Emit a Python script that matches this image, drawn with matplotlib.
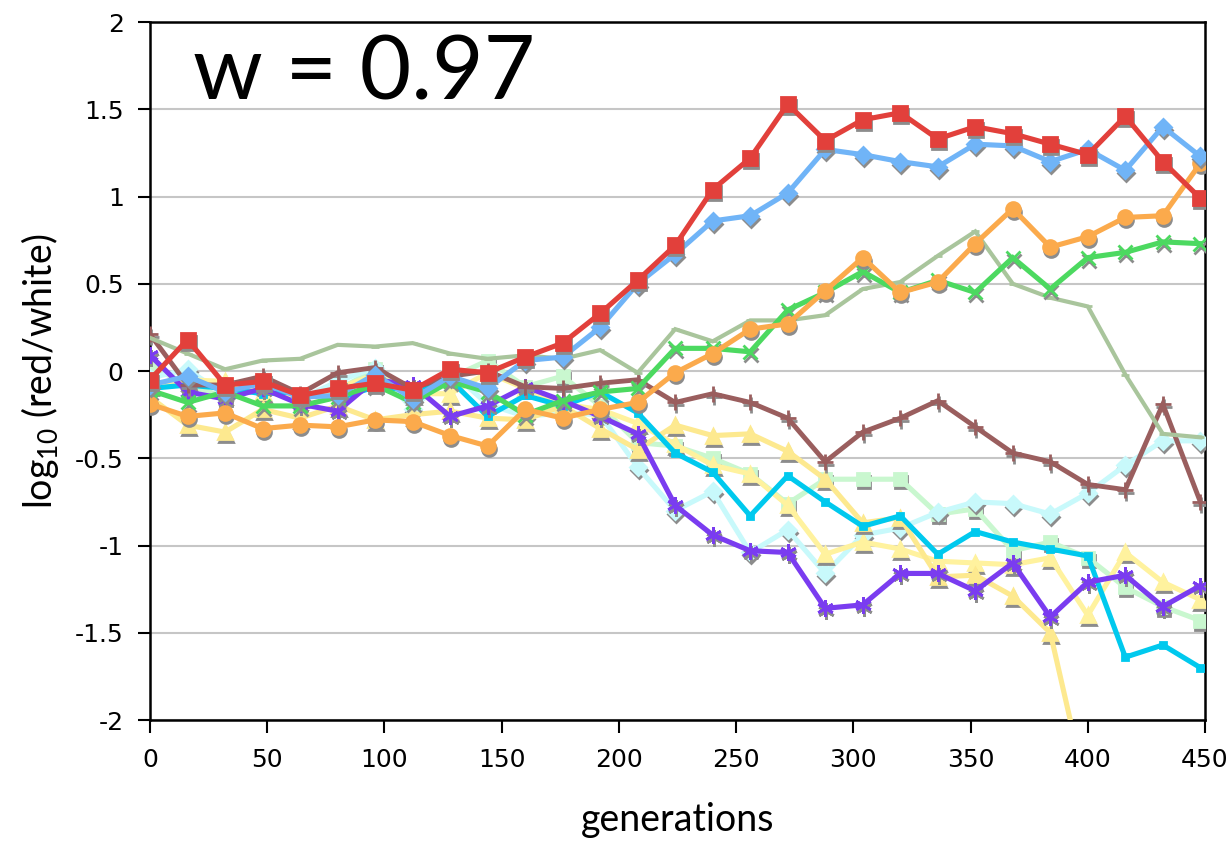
import numpy as np
import matplotlib
matplotlib.use("Agg")
import matplotlib.pyplot as plt
from matplotlib.transforms import offset_copy

plt.rcParams['mathtext.fontset'] = 'custom'
plt.rcParams['mathtext.rm'] = 'Lato'

nan = np.nan

gen = [0, 16, 32, 48, 64, 80, 96, 112, 128, 144, 160, 176, 192, 208, 224,
       240, 256, 272, 288, 304, 320, 336, 352, 368, 384, 400, 416, 432, 448]

red = [-0.05, 0.18, -0.08, -0.06, -0.14, -0.10, -0.07, -0.11, 0.01, -0.01,
       0.08, 0.16, 0.33, 0.52, 0.72, 1.04, 1.22, 1.53, 1.32, 1.44, 1.48,
       1.33, 1.40, 1.36, 1.30, 1.24, 1.46, 1.20, 0.99]
blue = [-0.08, -0.03, -0.12, -0.07, -0.15, -0.14, -0.02, -0.16, -0.03, -0.10,
        0.06, 0.08, 0.25, 0.50, 0.67, 0.86, 0.89, 1.02, 1.27, 1.24, 1.20,
        1.17, 1.30, 1.29, 1.20, 1.27, 1.15, 1.40, 1.23]
orange = [-0.19, -0.26, -0.24, -0.33, -0.31, -0.32, -0.28, -0.29, -0.37, -0.43,
          -0.22, -0.27, -0.22, -0.18, -0.01, 0.10, 0.24, 0.27, 0.46, 0.65, 0.45,
          0.51, 0.73, 0.93, 0.71, 0.77, 0.88, 0.89, 1.19]
green = [-0.11, -0.18, -0.12, -0.20, -0.20, -0.15, -0.08, -0.18, -0.06, -0.12,
         -0.25, -0.17, -0.12, -0.10, 0.13, 0.13, 0.11, 0.35, 0.45, 0.57, 0.45,
         0.52, 0.45, 0.65, 0.47, 0.65, 0.68, 0.74, 0.73]
sage = [0.19, 0.10, 0.01, 0.06, 0.07, 0.15, 0.14, 0.16, 0.10, 0.07,
        0.09, 0.07, 0.12, -0.01, 0.24, 0.17, 0.29, 0.29, 0.32, 0.47, 0.51,
        0.66, 0.80, 0.50, 0.42, 0.37, -0.02, -0.36, -0.38]
brown = [0.21, -0.08, -0.08, -0.03, -0.13, -0.01, 0.02, -0.10, -0.03, 0.00,
         -0.09, -0.10, -0.07, -0.05, -0.18, -0.13, -0.18, -0.27, -0.52, -0.35,
         -0.27, -0.17, -0.32, -0.47, -0.52, -0.65, -0.68, -0.19, -0.75]
purple = [0.09, -0.12, -0.16, -0.10, -0.19, -0.23, -0.05, -0.08, -0.26, -0.20,
          -0.09, -0.17, -0.26, -0.36, -0.77, -0.94, -1.03, -1.04, -1.36, -1.34,
          -1.16, -1.16, -1.26, -1.10, -1.41, -1.21, -1.17, -1.35, -1.23]
pale_cyan = [-0.04, 0.01, -0.14, -0.11, -0.16, -0.06, 0.02, -0.22, 0.00, -0.19,
             -0.26, -0.24, -0.25, -0.55, -0.80, -0.69, -1.04, -0.91, -1.16, -0.94,
             -0.90, -0.81, -0.75, -0.76, -0.82, -0.70, -0.54, -0.40, -0.40]
cyan = [-0.10, -0.08, -0.10, -0.13, -0.12, -0.16, -0.09, -0.11, -0.05, -0.26,
        -0.14, -0.20, -0.12, -0.24, -0.47, -0.58, -0.83, -0.60, -0.75, -0.89,
        -0.83, -1.05, -0.92, -0.98, -1.02, -1.06, -1.64, -1.57, -1.70]
mint = [0.03, -0.08, -0.15, -0.05, -0.14, -0.11, 0.01, -0.12, -0.04, 0.06,
        -0.09, -0.03, -0.20, -0.41, -0.43, -0.50, -0.59, -0.76, -0.62, -0.62,
        -0.62, -0.82, -0.79, -1.03, -0.98, -1.07, -1.24, -1.35, -1.43]
yellow_a = [-0.15, -0.31, -0.35, -0.22, -0.27, -0.20, -0.28, -0.25, -0.23, -0.27,
            -0.28, -0.20, -0.33, -0.45, -0.31, -0.37, -0.36, -0.46, -0.62, -0.87,
            -0.84, -1.18, -1.17, -1.29, -1.50, -2.44, nan, nan, nan]
yellow_b = [-0.08, -0.05, -0.06, -0.12, -0.15, -0.10, -0.02, -0.13, -0.13, -0.01,
            -0.10, -0.19, -0.22, -0.30, -0.42, -0.54, -0.59, -0.77, -1.05, -0.98,
            -1.02, -1.09, -1.10, -1.11, -1.07, -1.40, -1.04, -1.21, -1.31]

# (values, colour, marker, marker size, line width) in drawing order
series = [
    (mint, '#c9f7cf', 's', 9, 3.7),
    (pale_cyan, '#c8f9fb', 'D', 8.5, 3.7),
    (yellow_b, '#fff29e', '^', 10, 3.7),
    (yellow_a, '#fde98f', '^', 10, 3.7),
    (cyan, '#00c9ee', 's', 4, 3.7),
    (purple, '#7a3cf0', (6, 2, 0), 12, 3.7),
    (brown, '#9a5e5e', '+', 12, 3.5),
    (sage, '#a9c59c', '_', 6, 3.0),
    (green, '#4cd960', 'x', 10, 3.7),
    (orange, '#fbaa4c', 'o', 10, 3.7),
    (blue, '#70b4f7', 'D', 8.5, 3.7),
    (red, '#e2403b', 's', 10, 3.7),
]

fig = plt.figure(figsize=(12.31, 8.44), dpi=100)
ax = fig.add_axes([0.1219, 0.1469, 0.857, 0.827])

# grey drop shadow under the markers
shadow = offset_copy(ax.transData, fig=fig, x=1.0, y=-3.0, units='dots')

z = 3
for vals, col, mk, ms, lw in series:
    if mk != '_' and ms > 5:
        ax.plot(gen, vals, linestyle='none', marker=mk, markersize=ms,
                color='#8c8c8c', markeredgewidth=2.0, transform=shadow,
                zorder=z)
    ax.plot(gen, vals, color=col, linewidth=lw, marker=mk, markersize=ms,
            markeredgewidth=2.0, markerfacecolor=col, markeredgecolor=col,
            solid_joinstyle='miter', zorder=z + 1)
    z += 2

ax.set_xlim(0, 450)
ax.set_ylim(-2, 2)
ax.set_xticks([0, 50, 100, 150, 200, 250, 300, 350, 400, 450])
ax.set_yticks([-2, -1.5, -1, -0.5, 0, 0.5, 1, 1.5, 2])
ax.set_yticklabels(['-2', '-1.5', '-1', '-0.5', '0', '0.5', '1', '1.5', '2'])
ax.yaxis.grid(True, color='#c6c6c6', linewidth=1.5)
ax.set_axisbelow(True)
ax.tick_params(direction='out', length=9, width=1.5, labelsize=18,
               colors='black')
ax.tick_params(axis='x', pad=11)
ax.tick_params(axis='y', pad=10)
for sp in ax.spines.values():
    sp.set_linewidth(1.8)
    sp.set_color('black')

ax.set_xlabel('generations', family='Lato', fontsize=27, labelpad=22)
ax.set_ylabel(r'log$_{\mathrm{10}}$ (red/white)', family='Lato', fontsize=27,
              labelpad=10)

fig.text(193 / 1231, 1 - 100 / 844, 'w = 0.97', family='Lato', fontsize=64,
         va='baseline', ha='left')

fig.savefig('out.png', dpi=100)
